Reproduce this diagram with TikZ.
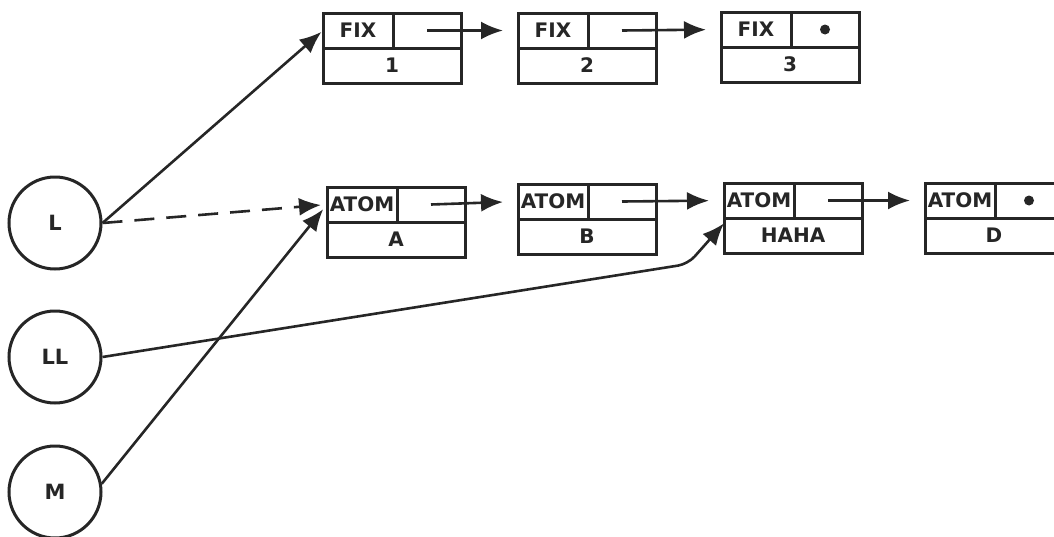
\documentclass[tikz,border=0pt]{standalone}
\usepackage{fontspec}
\setmainfont{DejaVu Sans}
\usepackage{tikz}
\usetikzlibrary{arrows.meta, positioning}

\colorlet{ink}{black!85}

\tikzset{
    cell/.style={draw=ink, text=ink, line width=3pt, inner sep=0pt, outer sep=0pt,
        minimum height=35pt, font=\bfseries\fontsize{20}{20}\selectfont},
    tagcell/.style={cell, minimum width=70pt},
    ptrcell/.style={cell, minimum width=68pt},
    valcell/.style={cell, minimum width=138pt},
    var/.style={draw=ink, text=ink, circle, line width=3pt, minimum size=92pt,
        font=\bfseries\fontsize{21}{21}\selectfont},
    link/.style={->, draw=ink, line width=2.6pt},
}

\begin{document}
\begin{tikzpicture}[x=1pt, y=-1pt, >={Latex[length=22pt,width=18pt]}]
    \useasboundingbox (0,0) rectangle (1054,536);
    \clip (0,0) rectangle (1054,536);

    % 1. Các biến
    \node[var] (L)  at (55,223) {L};
    \node[var] (LL) at (55,357) {LL};
    \node[var] (M)  at (55,492) {M};

    % 2. Các ô nhớ
    \foreach \n/\x/\y/\tag/\val in {fa/323/13/FIX/1, fb/518/13/FIX/2, fc/721/12/FIX/3,
        aa/327/187/ATOM/A, ab/518/184/ATOM/B, ac/724/183/ATOM/HAHA, ad/925/183/ATOM/D} {
        \node[tagcell, anchor=north west] (\n-t) at (\x,\y) {\tag};
        \node[ptrcell, right=0pt of \n-t] (\n-p) {};
        \node[valcell, anchor=north west] (\n-v) at (\n-t.south west) {\val};
    }

    % 3. Con trỏ giữa các ô
    \foreach \a/\b in {fa/fb, fb/fc, aa/ab, ab/ac, ac/ad} {
        \draw[link, shorten >=15pt] (\a-p.center) -- (\b-t.west);
    }
    \fill[ink] (fc-p.center) circle (5pt);
    \fill[ink] (ad-p.center) circle (5pt);

    % 4. Con trỏ từ các biến
    \draw[link, shorten >=2pt] (L.east) -- (fa-t.west);
    \draw[link, shorten >=6pt, dash pattern=on 20pt off 12pt] (L.east) -- (aa-t.west);
    \draw[link, shorten >=6pt] (M.10) -- (aa-t.west);
    \coordinate (kink) at (688,264);
    \draw[link, rounded corners=10pt] (LL.east) -- (kink) -- (ac-v.170);

\end{tikzpicture}
\end{document}
